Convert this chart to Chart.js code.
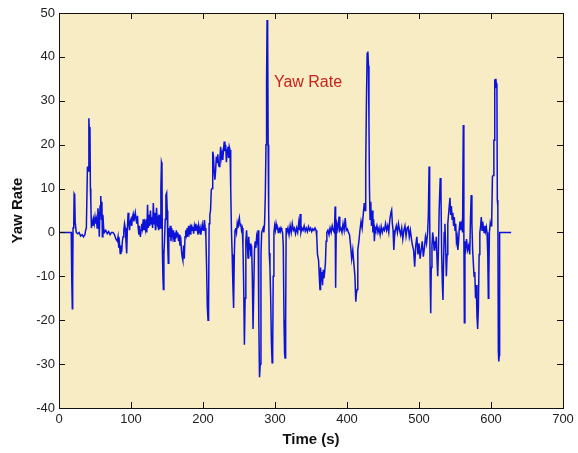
<!DOCTYPE html>
<html lang="en">
<head>
    <meta charset="UTF-8">
    <title>Yaw Rate</title>
    <script src="https://cdn.jsdelivr.net/npm/chart.js"></script>
    <style>
        body{
            margin: 0;
            background: #ffffff;
        }
        #wrap{
            width: 578px;
            height: 453px;
        }
    </style>
</head>
<body>
    <div id="wrap">
        <canvas id="grafik-yaw" width="578" height="453"></canvas>
    </div>

    <script>
        // time (s) and yaw rate samples
        const times = [
            0, 17, 17.5, 18, 18.5, 19, 19.5, 20.5, 21, 21.8, 22.5, 23, 24, 26, 28, 30, 32, 34, 36, 37,
            38, 39.5, 40.5, 41.5, 42.3, 43, 43.6, 44.2, 45, 46, 47, 48, 49, 50, 51, 52, 53, 54, 55, 56,
            57, 58, 59, 59.6, 60.2, 61, 62, 63, 65, 67, 69, 71, 73, 75, 77, 79, 81, 82, 83, 84,
            85, 86, 87, 88, 89, 90, 91, 92, 93, 94, 95, 96, 97, 98, 99, 100, 101, 102, 103, 104,
            105, 106, 107, 108, 109, 110, 111, 112, 113, 114, 115, 116, 117, 118, 119, 120, 121, 122, 123, 124,
            125, 126, 127, 128, 129, 130, 131, 132, 133, 134, 135.5, 136.5, 137.5, 138.5, 139.5, 140.5, 141.5, 142.3, 143, 143.6,
            144.3, 145, 145.7, 146.5, 147.5, 148.5, 149.5, 150.3, 151, 151.8, 152.5, 153.5, 154.5, 155.5, 156.5, 158, 159, 160, 161, 162,
            163, 164, 165, 166, 167, 168, 169, 170, 171, 172, 173, 174, 175, 176, 177, 178, 179, 180, 181, 182,
            183, 184, 185, 186, 187, 188, 189, 190, 191, 192, 193, 194, 195, 196, 197, 198, 199, 200, 201, 202,
            203, 204, 205, 206, 207, 207.8, 208.5, 209.5, 210.5, 211.5, 212.5, 213.5, 214.5, 215.5, 216.5, 217.5, 218.5, 219.5, 220.5, 221.5,
            222.5, 223.5, 224.5, 225.5, 226.5, 227.5, 228.5, 229.5, 230.5, 231.5, 232.5, 233.5, 234.5, 235.5, 236.5, 237.5, 238.5, 239.5, 240.5, 241.5,
            242.5, 243.5, 244.5, 245.5, 246.5, 247.5, 248.5, 249.5, 250.5, 251.5, 252.5, 253.5, 254.5, 255.5, 256.5, 257.5, 258.5, 259.5, 260.5, 261.5,
            262.5, 263.5, 264.5, 265.5, 266.5, 267.5, 268.5, 269.5, 270.5, 271.5, 272.5, 273.5, 274.5, 275.5, 276.5, 277.5, 278.5, 279.5, 280.5, 281.5,
            282.5, 283.5, 284.5, 285.5, 286.5, 287.5, 288.3, 289, 289.8, 290.5, 291.2, 292, 293, 294, 295, 296, 296.8, 297.5, 298.5, 299.5,
            300.5, 301.5, 302.5, 303.5, 304.5, 305.5, 306.5, 307.5, 308.5, 309.5, 310.5, 311.5, 312.5, 313.3, 314, 314.8, 315.5, 316.5, 318, 319.5,
            321, 322.5, 324, 325.5, 327, 328.5, 330, 331.5, 333, 334.2, 335, 336, 337.5, 339, 340.5, 342, 343.5, 345, 346.5, 348,
            349.5, 351, 352.5, 354, 355.5, 357, 358, 359, 360.5, 361.5, 362.5, 363.3, 364, 365, 366, 367, 368, 369, 370, 371,
            372, 373.5, 375, 376.5, 378, 379.5, 381, 382.5, 383.5, 384.2, 385, 386, 387.5, 389, 390, 391.5, 393, 394.5, 396, 397.5,
            399, 400.5, 402, 403.5, 405, 406.5, 408, 409.5, 411, 412.2, 413, 414, 415, 416.5, 418, 419.5, 421, 422.5, 424, 425,
            426, 427, 428, 429, 429.8, 430.5, 431.2, 432, 433, 434, 435, 436, 437, 438, 439, 440, 441.5, 443, 444.5, 446,
            447.5, 449, 450.5, 452, 453.5, 455, 456.5, 458, 459.5, 461, 462, 463, 464, 465, 466, 467, 468.5, 470, 471.5, 473,
            474.5, 476, 477.5, 479, 480.5, 482, 483.5, 485, 486.5, 488, 489.5, 491, 492.5, 494, 495.5, 497, 498.5, 500, 501.5, 503,
            504.5, 506, 507.5, 509, 510.5, 512, 513, 514, 514.8, 515.5, 516.3, 517, 518, 519, 520, 521, 522, 523, 524, 525,
            526, 527, 528, 529.5, 530.5, 531.5, 532.5, 533.3, 534, 535, 536, 537, 538, 539, 540, 541.5, 543, 544, 545, 546,
            547, 548, 549, 550, 551, 552, 553, 554, 555, 556, 557, 558, 559.5, 560.5, 561.5, 562.3, 563, 563.8, 565, 566,
            567.5, 569, 570.5, 571.5, 572.5, 573.5, 574.5, 575.5, 576.5, 577.5, 578.5, 579.5, 580.5, 581.5, 582.5, 583.5, 584.5, 585.5, 586.5, 587.5,
            588.5, 589.5, 590.5, 591.5, 592.5, 593.5, 594.5, 595.5, 596.3, 597, 597.8, 599, 600, 601, 602, 603, 604, 604.7, 605.2, 606,
            606.8, 607.5, 608.2, 608.8, 609.5, 610.2, 610.8, 611.5, 612, 628
        ]
        const yawRate = [
            0, 0, -0.5, -11, -17.4, -11, 1, 2, 8.8, 8.5, 2, 1.5, 0, -0.3, 0, -0.8, -0.5, -1, -0.5, 0.5,
            1, 15, 14, 26, 22, 24, 10, 7, 1, 2.5, 1.5, 3, 2, 3.5, 2, 3, 1, 5.5, 4, -1,
            6, 8.3, 3, 7, -1, 4, 1, 0, 0.5, -0.3, 0.2, -0.5, 0, 0, -0.5, -1.5, -2, -1, -3.5, -2.5,
            -4.8, -3, -4.5, -2, -1, 0.5, 2, 1, -2, -4.8, 1, 4.5, 2, 0.5, 2.5, 3, 1.5, 3.5, 4.2, 2.5,
            3.5, 4.5, 3, 2, 3.8, 1, -0.5, 1.5, -1, 0.5, 2, 1, 3, 0.5, 2, 0.8, 3, 0, 6.3, 1,
            4, 1.5, 5, 2, 3.5, 1, 6.7, 2, 4.5, 0.5, 5.6, 2, 3, 0.5, 4, 1, 10, 16, 15.5, -4,
            -10, -13, -5, -2, 3, 8.5, 9, 5, -3, -7, 1, -1, 1.5, -2, 1, -1, 0.5, -2, 0, -1.5,
            0.5, -1, 0, -2, -0.5, -3, -1, -4, -5.5, -6.3, -3, -6, -1, 0.5, -0.5, 1, -1, 1.5, 0, 1,
            -0.5, 1.8, 0.5, 1.3, -0.3, 1.5, 0.5, 2, 0.8, 1.2, -0.5, 1.5, 0.3, 1, -0.5, 0.8, 1.8, 0.5, 1, 2.8,
            1, -1, -8, -17, -20, -16, 2, 4, 5, 9.7, 10, 18.4, 17.5, 14, 12, 14, 17.3, 16, 17.8, 15.5,
            15, 17, 19.5, 17, 18, 16.5, 19, 20.7, 18.5, 20, 16, 18.8, 19.5, 17, 19.5, 18.8, 10, 0.5, -5, -12,
            -17.2, -5, 0.5, 1, 0, 2, 1, 2.5, 3.3, 1.5, 2, 0.5, 1, -3, -12, -25.6, -15, -2, 0.5, -2.4,
            -5.8, -1, -4, -2.5, -5.5, -3, -10, -22, -22, -4, -2, -3.5, -1, -2, 0.5, -20, -33, -30, -5, 0,
            0.5, 1, 0, 2, 8, 20, 34, 48.4, 45, 20, 5, -4.7, -8, -15, -25, -29.7, -27, -10, 0, 1.5,
            0.5, 2, 1, 1.2, 0, 0.8, 1, 0.3, 1, 0.5, 0, -3, -20, -27.5, -28.6, -20, 1, 0, 1, -0.5,
            1.5, 0, 2, 0.5, 1, -0.3, 1, 0, 2.3, 0.5, 4.2, 0, 1, 0.5, 1.5, 0.3, 1, 0.2, 1.3, 0.5,
            1, 0.2, 0.8, 0.5, 1, 0.5, -1, -5, -6.3, -10, -13, -8, -11, -9, -12, -8.5, -10.5, -9, -7, -2,
            0, 0.5, -0.5, 1, 0, 1.5, 0.5, 0, 5.9, -12.6, 0, 2, 1, 3.6, 0.5, 1, 0, 2, 0.5, 3.3,
            0.5, 0.8, 0, -0.5, -3, -6, -4, -7, -10, -15.8, -14, -13, -4, -2, 0.5, 2.5, 1, 4, 6.7, 5,
            15, 30, 40.8, 41.2, 38, 25, 10, 3, 7, 1.5, 5, 0, 3, -2, 1, 0.5, 1.5, 0, 1, -0.5,
            1.3, 0, 1, 0.5, 2, 0.5, 1.5, 0, 3, 4.5, 5.1, 2, 0.5, -4, -1, 0.5, 1.5, 0, 2, 0.5,
            -0.5, 1, -1.5, 0.5, 1.5, -0.8, 1, 1.3, -1, 0.5, -1.5, -3, -4, -7.8, -3, -1, -5, -2.5, -6, -4,
            -2, -5.5, -3.5, -1, -2.5, 0, 4, 15, 5, -10, -18.4, -8, -3, 0, -1.5, -4, -2, -3.5, -1, -6,
            -10, -4, 5, 12.4, 9, -5, -12, -15.4, -8, 0, 2, -3, -10, -5, 2, 5, 7.9, 4, 6, 3,
            4.5, 1.5, 3.5, 0.5, 2, -2, -1, -4, -2, 1, 2.5, 0.5, 2, 0, 24.5, 0, -20.6, -2, -3.5, -1.5,
            -4, -3, -5, 3, 8.5, 2, -4, -7, -10, -9, -15, -12, -19, -22, -17, -5, 0, 1.3, 3.5, 0.5,
            2.5, 1, 0, 1.5, 0.3, 1.2, 0, -5, -15, -10, 0, 2.2, 1.5, 3, 12.7, 13, 21, 21, 34.9, 33,
            35, 33.5, 34, 7.4, 6, -27, -29.4, -28, 0, 0
        ]
        const xTicks = [0, 100, 200, 300, 400, 500, 600, 700]
        const yTicks = [-40, -30, -20, -10, 0, 10, 20, 30, 40, 50]

        const beige = '#f7ecc4'

        // matlab style box: beige plot area, black frame, inward ticks, red label
        const matlabBox = {
            id: 'matlabBox',
            beforeDraw(chart){
                const a = chart.chartArea
                const ctx = chart.ctx
                ctx.save()
                ctx.fillStyle = beige
                ctx.fillRect(a.left, a.top, a.right - a.left, a.bottom - a.top)
                ctx.restore()
            },
            afterDraw(chart){
                const a = chart.chartArea
                const ctx = chart.ctx
                const sx = chart.scales.x
                const sy = chart.scales.y
                const tl = 6
                ctx.save()
                ctx.strokeStyle = '#111111'
                ctx.lineWidth = 1
                ctx.strokeRect(a.left + 0.5, a.top + 0.5, a.right - a.left, a.bottom - a.top)
                ctx.beginPath()
                xTicks.forEach(v => {
                    const px = Math.round(sx.getPixelForValue(v)) + 0.5
                    ctx.moveTo(px, a.bottom)
                    ctx.lineTo(px, a.bottom - tl)
                    ctx.moveTo(px, a.top)
                    ctx.lineTo(px, a.top + tl)
                })
                yTicks.forEach(v => {
                    const py = Math.round(sy.getPixelForValue(v)) + 0.5
                    ctx.moveTo(a.left, py)
                    ctx.lineTo(a.left + tl, py)
                    ctx.moveTo(a.right, py)
                    ctx.lineTo(a.right - tl, py)
                })
                ctx.stroke()

                ctx.fillStyle = '#c8201e'
                ctx.font = '16px "Liberation Sans", Arial, sans-serif'
                ctx.textAlign = 'center'
                ctx.textBaseline = 'middle'
                ctx.fillText('Yaw Rate', 308, 83)
                ctx.restore()
            }
        }

        const pts = times.map((t, i) => ({x: t, y: yawRate[i]}))
        const tickFont = {family: '"Liberation Sans", Arial, sans-serif', size: 13}
        const titleFont = {family: '"Liberation Sans", Arial, sans-serif', size: 15, weight: 'bold'}

        new Chart(document.getElementById('grafik-yaw'), {
            type: 'line',
            data: {
                datasets: [{
                    label: 'Yaw Rate',
                    data: pts,
                    borderColor: 'rgb(12,18,215)',
                    borderWidth: 1.5,
                    pointRadius: 0,
                    tension: 0,
                    fill: false
                }]
            },
            options: {
                responsive: false,
                animation: false,
                parsing: false,
                layout: {padding: {top: 13, right: 15, left: 0, bottom: 0}},
                plugins: {
                    legend: {display: false},
                    tooltip: {enabled: false}
                },
                scales: {
                    x: {
                        type: 'linear',
                        min: 0,
                        max: 700,
                        grid: {display: false, drawTicks: false},
                        border: {display: false},
                        afterBuildTicks: s => { s.ticks = xTicks.map(v => ({value: v})) },
                        afterFit: s => { s.height = 45 },
                        ticks: {color: '#222222', font: tickFont, padding: 4, maxRotation: 0},
                        title: {display: true, text: 'Time (s)', color: '#111111', font: titleFont, padding: {top: 0, bottom: 4}}
                    },
                    y: {
                        type: 'linear',
                        min: -40,
                        max: 50,
                        grid: {display: false, drawTicks: false},
                        border: {display: false},
                        afterBuildTicks: s => { s.ticks = yTicks.map(v => ({value: v})) },
                        afterFit: s => { s.width = 59 },
                        ticks: {color: '#222222', font: tickFont, padding: 4},
                        title: {display: true, text: 'Yaw Rate', color: '#111111', font: titleFont, padding: {top: 9, bottom: 0}}
                    }
                }
            },
            plugins: [matlabBox]
        })
    </script>
</body>
</html>
